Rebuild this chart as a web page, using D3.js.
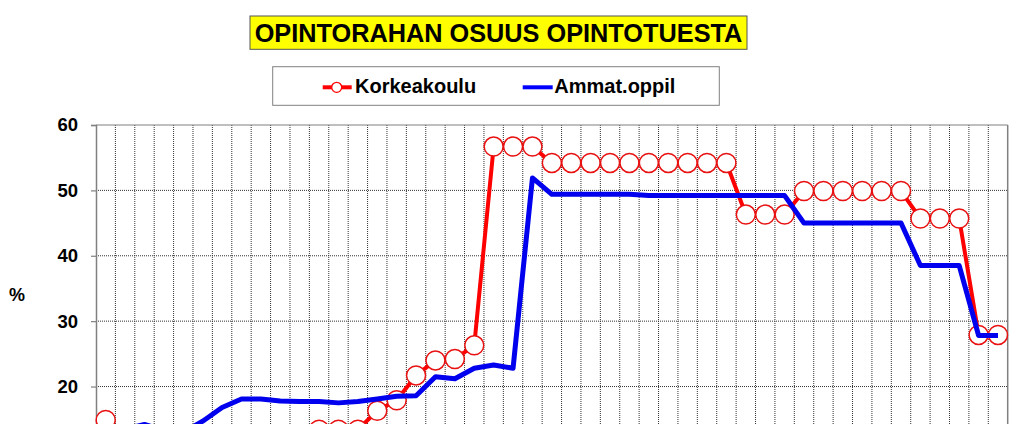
<!DOCTYPE html>
<html>
<head>
<meta charset="utf-8">
<script src="https://cdn.jsdelivr.net/npm/d3@7/dist/d3.min.js"></script>
<style>
  html, body { margin: 0; padding: 0; background: #fff; overflow: hidden; }
  svg { display: block; }
  text { font-family: "Liberation Sans", Arial, sans-serif; font-weight: bold; }
</style>
</head>
<body>
<svg id="chart" width="1023" height="424"></svg>
<script>
// ---- data ----
const categories = d3.range(1972, 2019).map(String); // 47 years (x labels lie below the visible area)
const korkeakoulu = [
  14.9, 12.3, 12.0, 11.8, 11.6, 11.8, 12.0, 12.2, 12.3, 12.4,
  12.5, 13.4, 13.4, 13.4, 16.3, 17.9, 21.7, 24.0, 24.2, 26.3,
  56.7, 56.7, 56.7, 54.2, 54.2, 54.2, 54.2, 54.2, 54.2, 54.2,
  54.2, 54.2, 54.2, 46.3, 46.3, 46.3, 49.9, 49.9, 49.9, 49.9,
  49.9, 49.9, 45.7, 45.7, 45.7, 27.9, 27.9
];
const ammat = [
  13.2, 13.5, 14.2, 13.3, 13.0, 14.7, 16.8, 18.1, 18.1, 17.8,
  17.7, 17.7, 17.5, 17.7, 18.1, 18.5, 18.6, 21.5, 21.2, 22.8,
  23.3, 22.8, 51.9, 49.4, 49.4, 49.4, 49.4, 49.4, 49.2, 49.2,
  49.2, 49.2, 49.2, 49.2, 49.2, 49.2, 45.0, 45.0, 45.0, 45.0,
  45.0, 45.0, 38.5, 38.5, 38.5, 27.8, 27.8
];
const yTicks = [0, 10, 20, 30, 40, 50, 60];
const titleText = "OPINTORAHAN OSUUS OPINTOTUESTA";
const seriesNames = ["Korkeakoulu", "Ammat.oppil"];
const yLabel = "%";

// ---- layout ----
const svg = d3.select("#chart");
const plot = { left: 96, right: 1007.7, top: 125, bottom: 517.3 };

const x = d3.scaleBand().domain(categories).range([plot.left, plot.right]).padding(0);
const y = d3.scaleLinear().domain([0, 60]).range([plot.bottom, plot.top]);
const cx = c => x(c) + x.bandwidth() / 2;

// title
const tb = { x: 250, y: 16, w: 497, h: 33.3 };
svg.append("rect").attr("x", tb.x).attr("y", tb.y).attr("width", tb.w).attr("height", tb.h)
  .attr("fill", "#ffff00").attr("stroke", "#555").attr("stroke-width", 1);
svg.append("text").attr("x", tb.x + tb.w / 2).attr("y", 41.7)
  .attr("text-anchor", "middle").attr("font-size", 25.3).attr("fill", "#000")
  .text(titleText);

// legend
svg.append("rect").attr("x", 272.7).attr("y", 66.7).attr("width", 446.6).attr("height", 38.6)
  .attr("fill", "#fff").attr("stroke", "#808080").attr("stroke-width", 1);
const ly = 87.3;
svg.append("line").attr("x1", 322.7).attr("x2", 351.7).attr("y1", ly).attr("y2", ly)
  .attr("stroke", "#ff0000").attr("stroke-width", 4);
svg.append("circle").attr("cx", 336.7).attr("cy", ly).attr("r", 5)
  .attr("fill", "#fff").attr("stroke", "#ff0000").attr("stroke-width", 1.3);
svg.append("text").attr("x", 355).attr("y", 92.7).attr("font-size", 20).text(seriesNames[0]);
svg.append("line").attr("x1", 522.7).attr("x2", 552.7).attr("y1", ly).attr("y2", ly)
  .attr("stroke", "#0000ff").attr("stroke-width", 4);
svg.append("text").attr("x", 554.3).attr("y", 92.7).attr("font-size", 20).text(seriesNames[1]);

// grid
const grid = svg.append("g");
grid.selectAll("line.h").data(yTicks.filter(t => t > 0 && t < 60)).join("line")
  .attr("x1", plot.left).attr("x2", plot.right)
  .attr("y1", d => y(d)).attr("y2", d => y(d))
  .attr("stroke", "#333").attr("stroke-width", 1).attr("stroke-dasharray", "1,1");
grid.selectAll("line.v").data(categories.slice(1)).join("line")
  .attr("x1", d => x(d)).attr("x2", d => x(d))
  .attr("y1", plot.top).attr("y2", plot.bottom)
  .attr("stroke", "#333").attr("stroke-width", 1).attr("stroke-dasharray", "1,1");
// top and right border
svg.append("line").attr("x1", plot.left).attr("x2", plot.right).attr("y1", plot.top).attr("y2", plot.top)
  .attr("stroke", "#808080").attr("stroke-width", 1.2);
svg.append("line").attr("x1", plot.right).attr("x2", plot.right).attr("y1", plot.top).attr("y2", plot.bottom)
  .attr("stroke", "#808080").attr("stroke-width", 1.5);

// y axis
const yAxis = svg.append("g").attr("transform", `translate(${plot.left},0)`)
  .call(d3.axisLeft(y).tickValues(yTicks).tickSize(5).tickPadding(13).tickFormat(d3.format("d")));
yAxis.select(".domain").attr("stroke", "#808080").attr("stroke-width", 1.5);
yAxis.selectAll(".tick line").attr("stroke", "#808080").attr("stroke-width", 1.2);
yAxis.selectAll(".tick text").attr("font-size", 18.5).attr("fill", "#000")
  .attr("font-family", "'Liberation Sans', Arial, sans-serif").attr("font-weight", "bold");

svg.append("text").attr("x", 17).attr("y", 301).attr("text-anchor", "middle")
  .attr("font-size", 18).text(yLabel);

// x axis (below the photographed area, labels rotated so they do not collide)
const xAxis = svg.append("g").attr("transform", `translate(0,${plot.bottom})`)
  .call(d3.axisBottom(x).tickSize(0).tickPadding(6));
xAxis.select(".domain").attr("stroke", "#808080").attr("stroke-width", 1.5);
xAxis.selectAll("text").attr("font-size", 12)
  .attr("font-family", "'Liberation Sans', Arial, sans-serif").attr("font-weight", "bold")
  .attr("text-anchor", "end").attr("dx", "-0.5em").attr("dy", "-0.4em")
  .attr("transform", "rotate(-90)");

// series
const line = d3.line().x((d, i) => cx(categories[i])).y(d => y(d));
svg.append("path").datum(korkeakoulu).attr("d", line)
  .attr("fill", "none").attr("stroke", "#ff0000").attr("stroke-width", 4).attr("stroke-linejoin", "round");
svg.selectAll("circle.k").data(korkeakoulu).join("circle")
  .attr("cx", (d, i) => cx(categories[i])).attr("cy", d => y(d)).attr("r", 9.5)
  .attr("fill", "#fff").attr("stroke", "#e81010").attr("stroke-width", 1.5);
svg.append("path").datum(ammat).attr("d", line)
  .attr("fill", "none").attr("stroke", "#0000ee").attr("stroke-width", 5).attr("stroke-linejoin", "round");
</script>
</body>
</html>
